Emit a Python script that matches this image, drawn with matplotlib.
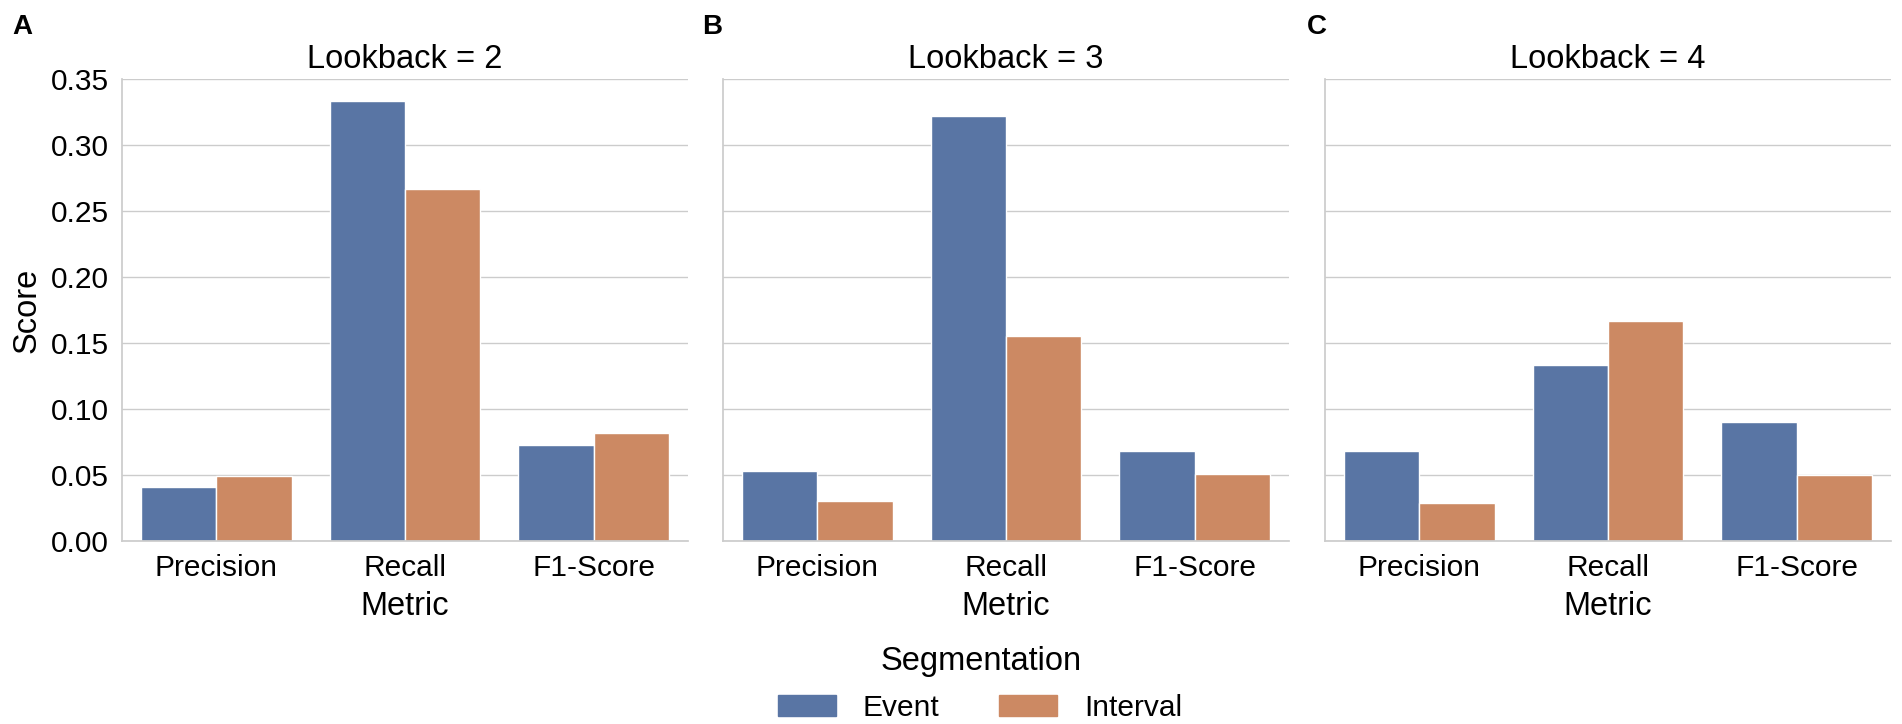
import numpy as np
import pandas as pd
import matplotlib.pyplot as plt
import seaborn as sns

metrics = ['Precision', 'Recall', 'F1-Score']
lookbacks = [2, 3, 4]
segmentations = ['Event', 'Interval']

# scores per lookback, order: metrics
event_scores = {2: [0.041, 0.333, 0.073],
                3: [0.053, 0.322, 0.068],
                4: [0.068, 0.133, 0.090]}
interval_scores = {2: [0.049, 0.267, 0.082],
                   3: [0.030, 0.155, 0.051],
                   4: [0.029, 0.167, 0.050]}

rows = []
for lb in lookbacks:
    for i, m in enumerate(metrics):
        rows.append({'Lookback': lb, 'Metric': m, 'Segmentation': 'Event', 'Score': event_scores[lb][i]})
        rows.append({'Lookback': lb, 'Metric': m, 'Segmentation': 'Interval', 'Score': interval_scores[lb][i]})
df = pd.DataFrame(rows)

sns.set_theme(style='whitegrid')
plt.rcParams['font.family'] = ['Liberation Sans', 'DejaVu Sans']
plt.rcParams['text.color'] = 'black'
plt.rcParams['axes.labelcolor'] = 'black'
plt.rcParams['xtick.color'] = 'black'
plt.rcParams['ytick.color'] = 'black'

W, H = 1902, 724
fig = plt.figure(figsize=(W / 100, H / 100), dpi=100)
lefts = [122, 723, 1325]
width = 566
ax_top, ax_bot = 79, 541
panel_letters = ['A', 'B', 'C']
letter_x = [12, 702, 1307]

axes = []
for k, lb in enumerate(lookbacks):
    ax = fig.add_axes([lefts[k] / W, 1 - ax_bot / H, width / W, (ax_bot - ax_top) / H])
    sub = df[df['Lookback'] == lb]
    sns.barplot(data=sub, x='Metric', y='Score', hue='Segmentation',
                order=metrics, hue_order=segmentations, ax=ax, legend=False)
    ax.set_ylim(0, 0.35)
    ax.set_yticks(np.arange(0, 0.36, 0.05))
    ax.set_title(f'Lookback = {lb}', fontsize=23.5, pad=8)
    ax.set_xlabel('Metric', fontsize=23.5, labelpad=6)
    ax.tick_params(axis='both', labelsize=21.5)
    ax.xaxis.grid(False)
    sns.despine(ax=ax, left=False, bottom=False)
    if k == 0:
        ax.set_ylabel('Score', fontsize=23.5, labelpad=6)
    else:
        ax.set_ylabel('')
        ax.set_yticklabels([])
    fig.text(letter_x[k] / W, 1 - 14 / H, panel_letters[k], fontsize=20, fontweight='bold', va='top')
    axes.append(ax)

# legend title and entries placed below the panels
fig.text(981 / W, 1 - 670 / H, 'Segmentation', fontsize=23.5, ha='center', va='baseline')
handles = [plt.Rectangle((0, 0), 1, 1, color=p.get_facecolor()) for p in [axes[0].patches[0], axes[0].patches[3]]]
fig.legend(handles, segmentations, loc='center',
           bbox_to_anchor=(980 / W, 1 - 708 / H), ncol=2, frameon=False, fontsize=21.5,
           borderpad=0, columnspacing=2.0, handlelength=1.95, handletextpad=0.9)

fig.savefig('out.png', dpi=100)
